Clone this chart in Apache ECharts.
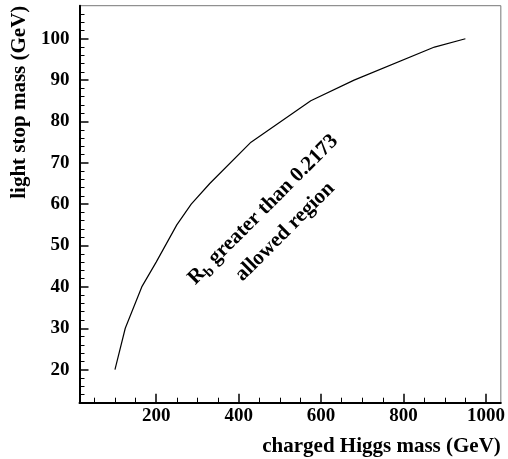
<!DOCTYPE html>
<html><head><meta charset="utf-8">
<script src="https://cdn.jsdelivr.net/npm/echarts@6/dist/echarts.min.js"></script>
<style>html,body{margin:0;padding:0;background:#fff}#c{width:508px;height:459px}</style>
</head><body><div id="c"></div>
<script>
const higgsMass = [100, 125, 165, 200, 250, 285, 330, 430, 575, 680, 875, 950];
const stopMass  = [20, 30, 40, 46, 55, 60, 65, 75, 85, 90, 98, 100];
const xTicks = [200, 400, 600, 800, 1000];
const yTicks = [20, 30, 40, 50, 60, 70, 80, 90, 100];
const xTitle = 'charged Higgs mass (GeV)';
const yTitle = 'light stop mass (GeV)';
const noteMain = 'R';
const noteSub = 'b';
const noteRest = ' greater than 0.2173';
const noteLine2 = 'allowed region';

const F = '"Liberation Serif", "Times New Roman", serif';
const XMIN = 14, XMAX = 1036, YMIN = 12, YMAX = 108;
const xMinor = [], yMinor = [];
for (let v = 50; v < XMAX; v += 50) if (!xTicks.includes(v)) xMinor.push(v);
for (let v = 14; v < YMAX; v += 2) if (!yTicks.includes(v)) yMinor.push(v);

const chart = echarts.init(document.getElementById('c'));
const pts = higgsMass.map((x, i) => [x, stopMass[i]]);
const lbl = {fontFamily: F, fontWeight: 'bold', fontSize: 19, color: '#000', formatter: v => String(v)};
chart.setOption({
  animation: false,
  grid: {left: 79.5, right: 4.7, top: 5.7, bottom: 56.3, show: true, borderColor: '#777', borderWidth: 1},
  xAxis: [{
    type: 'value', min: XMIN, max: XMAX,
    name: xTitle, nameLocation: 'end', nameGap: 0,
    nameTextStyle: {fontFamily: F, fontWeight: 'bold', fontSize: 21, color: '#000', align: 'right', verticalAlign: 'top', padding: [33, 0, 0, 0]},
    axisLine: {lineStyle: {color: '#000', width: 2}},
    axisTick: {inside: true, length: 9, customValues: xTicks, lineStyle: {color: '#000', width: 1.5}},
    splitLine: {show: false},
    axisLabel: Object.assign({margin: 4, customValues: xTicks}, lbl)
  }, {
    type: 'value', min: XMIN, max: XMAX, position: 'bottom',
    axisLine: {show: false},
    axisTick: {inside: true, length: 5, customValues: xMinor, lineStyle: {color: '#000', width: 1}},
    axisLabel: {show: false}, splitLine: {show: false}
  }],
  yAxis: [{
    type: 'value', min: YMIN, max: YMAX,
    name: yTitle, nameLocation: 'end', nameGap: 0, nameRotate: 90,
    nameTextStyle: {fontFamily: F, fontWeight: 'bold', fontSize: 21, color: '#000', align: 'right', verticalAlign: 'bottom', padding: [0, 0, 49, 0]},
    axisLine: {lineStyle: {color: '#000', width: 2}},
    axisTick: {inside: true, length: 9, customValues: yTicks, lineStyle: {color: '#000', width: 1.5}},
    splitLine: {show: false},
    axisLabel: Object.assign({margin: 10, customValues: yTicks}, lbl)
  }, {
    type: 'value', min: YMIN, max: YMAX, position: 'left',
    axisLine: {show: false},
    axisTick: {inside: true, length: 5, customValues: yMinor, lineStyle: {color: '#000', width: 1}},
    axisLabel: {show: false}, splitLine: {show: false}
  }],
  series: [{
    type: 'line', data: pts, showSymbol: false, symbol: 'none',
    lineStyle: {color: '#000', width: 1.2}
  }]
});
const c = chart.convertToPixel({gridIndex: 0}, [486, 56]);
chart.setOption({
  graphic: [{
    type: 'text', x: c[0], y: c[1], rotation: Math.PI / 4,
    style: {
      text: '{m|' + noteMain + '}{s|' + noteSub + '}{m|' + noteRest + '}\n{m|' + noteLine2 + '}',
      align: 'center', verticalAlign: 'middle', fill: '#000',
      rich: {
        m: {fontFamily: F, fontWeight: 'bold', fontSize: 21, lineHeight: 31, fill: '#000'},
        s: {fontFamily: F, fontWeight: 'bold', fontSize: 15, lineHeight: 31, padding: [12, 0, 0, 0], fill: '#000'}
      }
    }
  }]
});
</script></body></html>
